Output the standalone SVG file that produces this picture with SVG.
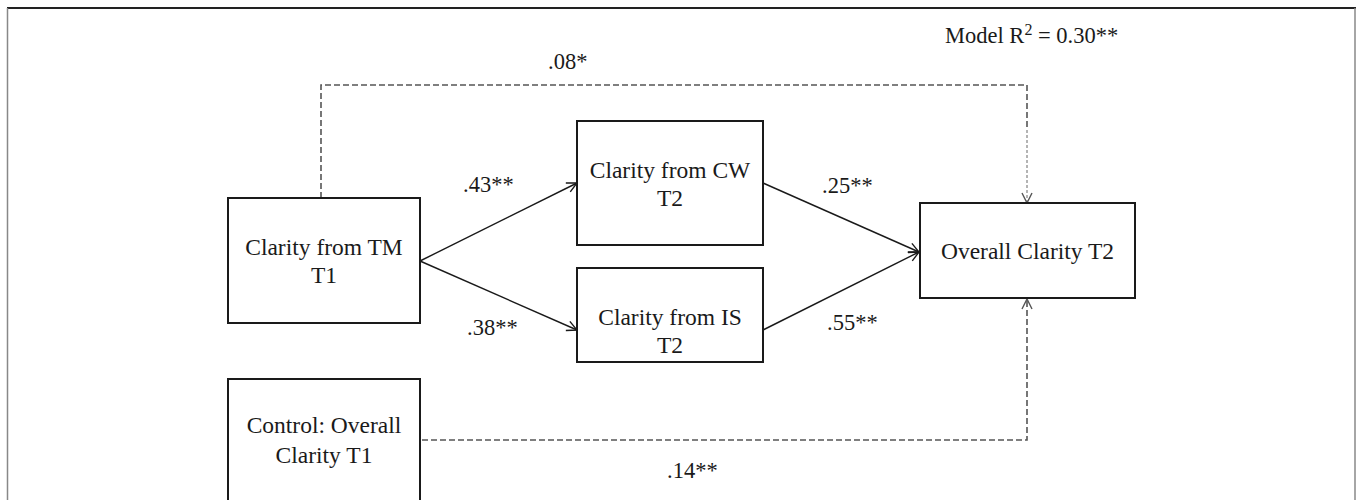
<svg xmlns="http://www.w3.org/2000/svg" width="1357" height="500" viewBox="0 0 1357 500">
  <style>
    .box { fill: #ffffff; stroke: #1a1a1a; stroke-width: 2; }
    .lbl { font-family: "Liberation Serif", "Times New Roman", serif; font-size: 23.5px; fill: #1a1a1a; text-anchor: middle; }
    .coef { font-family: "Liberation Serif", "Times New Roman", serif; font-size: 22.5px; fill: #1a1a1a; }
    .path { fill: none; stroke: #1a1a1a; stroke-width: 1.4; }
    .dash { fill: none; stroke: #555555; stroke-width: 1.6; stroke-dasharray: 6 3; }
    .dot { fill: none; stroke: #777777; stroke-width: 1.1; stroke-dasharray: 3 2; }
  </style>
  <defs>
    <marker id="arrow" viewBox="0 0 12 12" refX="11" refY="6" markerWidth="12" markerHeight="12" markerUnits="userSpaceOnUse" orient="auto">
      <path d="M1,1 L11,6 L1,11" fill="none" stroke="#1a1a1a" stroke-width="1.4"/>
    </marker>
    <marker id="arrowGray" viewBox="0 0 12 12" refX="11" refY="6" markerWidth="12" markerHeight="12" markerUnits="userSpaceOnUse" orient="auto">
      <path d="M1,1 L11,6 L1,11" fill="none" stroke="#555555" stroke-width="1.4"/>
    </marker>
  </defs>

  <!-- page frame -->
  <rect x="0" y="0" width="1357" height="500" fill="#ffffff"/>
  <line x1="7" y1="8" x2="1356" y2="8" stroke="#222222" stroke-width="2"/>
  <line x1="7.5" y1="8" x2="7.5" y2="500" stroke="#888888" stroke-width="1.5"/>
  <line x1="1355" y1="8" x2="1355" y2="500" stroke="#888888" stroke-width="1.5"/>

  <!-- connectors -->
  <g id="connectors">
    <line class="path" x1="420" y1="261" x2="577" y2="183" marker-end="url(#arrow)"/>
    <line class="path" x1="420" y1="261" x2="577" y2="330" marker-end="url(#arrow)"/>
    <line class="path" x1="763" y1="183" x2="919" y2="252" marker-end="url(#arrow)"/>
    <line class="path" x1="763" y1="330" x2="919" y2="252" marker-end="url(#arrow)"/>
    <path class="dash" d="M321,198 V85 H1027 V130"/>
    <path class="dot" d="M1027,130 V203" marker-end="url(#arrowGray)"/>
    <path class="dash" d="M422,440 H1027 V299" marker-end="url(#arrowGray)"/>
  </g>

  <!-- path coefficients -->
  <g id="coefficients">
    <text class="coef" x="548" y="69">.08*</text>
    <text class="coef" x="463" y="192">.43**</text>
    <text class="coef" x="467" y="335">.38**</text>
    <text class="coef" x="822" y="193">.25**</text>
    <text class="coef" x="827" y="330">.55**</text>
    <text class="coef" x="667" y="478">.14**</text>
    <text class="coef" x="945" y="43">Model R<tspan font-size="16" dy="-8">2</tspan><tspan dy="8"> = 0.30**</tspan></text>
  </g>

  <g id="tm-t1">
    <rect class="box" x="228" y="198" width="192" height="125"/>
    <text class="lbl" x="324" y="255">Clarity from TM</text>
    <text class="lbl" x="324" y="283">T1</text>
  </g>

  <g id="cw-t2">
    <rect class="box" x="577" y="121" width="186" height="124"/>
    <text class="lbl" x="670" y="178">Clarity from CW</text>
    <text class="lbl" x="670" y="206">T2</text>
  </g>

  <g id="is-t2">
    <rect class="box" x="577" y="268" width="186" height="94"/>
    <text class="lbl" x="670" y="325">Clarity from IS</text>
    <text class="lbl" x="670" y="353">T2</text>
  </g>

  <g id="overall-t2">
    <rect class="box" x="920" y="203" width="215" height="95"/>
    <text class="lbl" x="1027.5" y="259">Overall Clarity T2</text>
  </g>

  <g id="control-t1">
    <rect class="box" x="228" y="379" width="192" height="140"/>
    <text class="lbl" x="324" y="433">Control: Overall</text>
    <text class="lbl" x="324" y="463">Clarity T1</text>
  </g>
</svg>
